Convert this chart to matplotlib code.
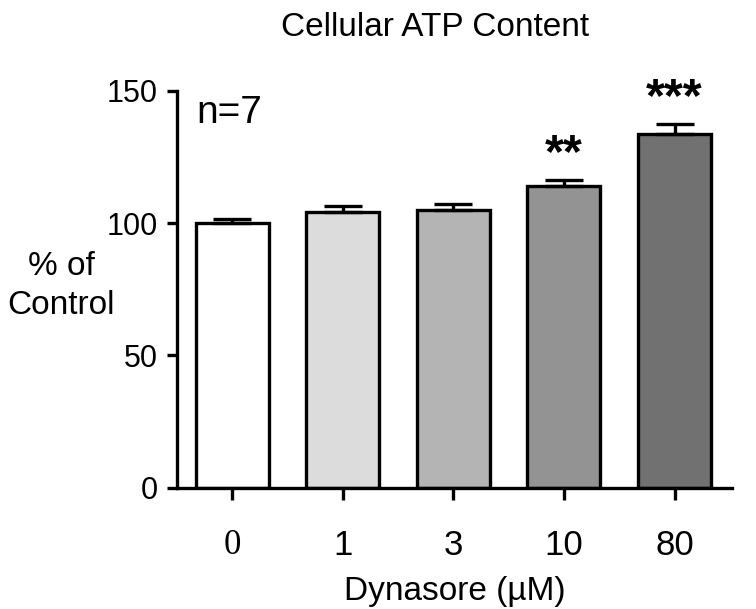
import matplotlib
matplotlib.use("Agg")
import matplotlib.pyplot as plt

doses = ["0", "1", "3", "10", "80"]
atp_mean = [100.0, 104.2, 104.8, 114.1, 133.7]
atp_sem = [1.5, 2.4, 2.5, 2.3, 3.8]
bar_colors = ["#ffffff", "#dcdcdc", "#b4b4b4", "#939393", "#717171"]
stars = ["", "", "", "**", "***"]

plt.rcParams['font.family'] = ['Liberation Sans', 'DejaVu Sans']

fig = plt.figure(figsize=(7.56, 6.09), dpi=100)
ax = fig.add_axes([177 / 756, 1 - 487.7 / 609, (732 - 177) / 756, (487.7 - 90.7) / 609])

lw = 2.4
x = list(range(len(doses)))
ax.bar(x, atp_mean, width=0.66, color=bar_colors, edgecolor='black', linewidth=lw, zorder=2)
# only the upper half of the error bar shows
ax.errorbar(x, atp_mean, yerr=[[0] * len(x), atp_sem], fmt='none', ecolor='black',
            elinewidth=lw, capsize=14, capthick=lw, zorder=3)

for i, s in enumerate(stars):
    if s:
        ax.text(i, atp_mean[i] + atp_sem[i] + 1.0, s, ha='center', va='bottom',
                fontsize=35, fontweight='bold')

ax.text(0.035, 0.99, "n=7", transform=ax.transAxes, ha='left', va='top', fontsize=28)

ax.set_xlim(-0.5, 4.52)
ax.set_ylim(0, 150)
ax.set_yticks([0, 50, 100, 150])
ax.set_xticks(x)
ax.set_xticklabels(doses)
ax.get_xticklabels()[0].set_family('Liberation Serif')

for side in ['top', 'right']:
    ax.spines[side].set_visible(False)
for side in ['left', 'bottom']:
    ax.spines[side].set_linewidth(lw)

ax.tick_params(axis='y', length=7, width=lw, labelsize=22, pad=7)
ax.tick_params(axis='x', length=8.5, width=lw, labelsize=25, pad=21)

ax.set_xlabel("Dynasore (\u00b5M)", fontsize=24, labelpad=10)
fig.text(61 / 756, 1 - 286 / 609, "% of\nControl", ha='center', va='center',
         fontsize=24, linespacing=1.3)
fig.text(435 / 756, 1 - 28 / 609, "Cellular ATP Content", ha='center', va='center', fontsize=24)

fig.savefig("out.png", dpi=100)
